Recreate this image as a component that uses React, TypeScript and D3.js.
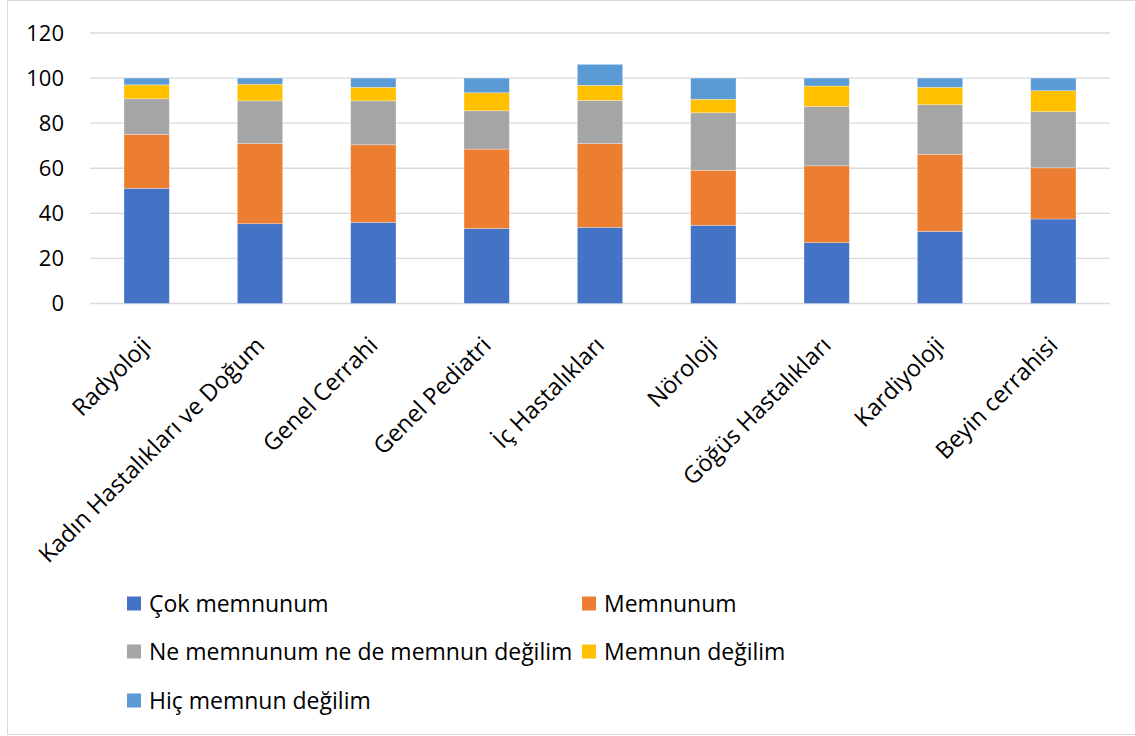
import React, { useRef, useEffect } from 'react';
import * as d3 from 'd3';

// Departments (x categories)
const departments = [
  'Radyoloji',
  'Kadın Hastalıkları ve Doğum',
  'Genel Cerrahi',
  'Genel Pediatri',
  'İç Hastalıkları',
  'Nöroloji',
  'Göğüs Hastalıkları',
  'Kardiyoloji',
  'Beyin cerrahisi',
];

// Satisfaction levels (stack order, bottom to top)
const levels = [
  'Çok memnunum',
  'Memnunum',
  'Ne memnunum ne de memnun değilim',
  'Memnun değilim',
  'Hiç memnun değilim',
];

const cokMemnunum = [51.1, 35.4, 36.0, 33.3, 33.8, 34.7, 27.0, 32.0, 37.5];
const memnunum = [23.9, 35.6, 34.4, 35.2, 37.2, 24.4, 34.1, 34.2, 22.7];
const neMemnunum = [15.8, 18.9, 19.5, 17.0, 19.1, 25.5, 26.3, 22.0, 24.9];
const memnunDegilim = [6.2, 7.4, 6.0, 8.0, 6.7, 6.0, 9.1, 7.7, 9.3];
const hicMemnunDegilim = [3.0, 2.7, 4.1, 6.5, 9.3, 9.4, 3.5, 4.1, 5.6];

const yTicks = [0, 20, 40, 60, 80, 100, 120];

const colors = ['#4472C4', '#ED7D31', '#A5A5A5', '#FFC000', '#5B9BD5'];

const App = () => {
  const svgRef = useRef<SVGSVGElement>(null);

  useEffect(() => {
    const width = 1135;
    const height = 736;
    const font = "'Open Sans', sans-serif";

    const svg = d3.select(svgRef.current);
    svg.selectAll('*').remove();
    svg.attr('width', width).attr('height', height);

    // chart frame
    svg.append('rect')
      .attr('x', 7.5)
      .attr('y', 0.5)
      .attr('width', width)
      .attr('height', 734)
      .attr('fill', '#fff')
      .attr('stroke', '#d9d9d9')
      .attr('stroke-width', 1);

    // Build table for stacking
    const series = [cokMemnunum, memnunum, neMemnunum, memnunDegilim, hicMemnunDegilim];
    const table = departments.map((dep, i) => {
      const row: any = { dep };
      levels.forEach((lv, j) => { row[lv] = series[j][i]; });
      return row;
    });
    const stacked = d3.stack().keys(levels)(table);

    const x = d3.scaleBand()
      .domain(departments)
      .range([90, 1110])
      .paddingInner(0.6)
      .paddingOuter(0.3);

    const y = d3.scaleLinear()
      .domain([0, 120])
      .range([303.5, 33]);

    // gridlines
    svg.append('g')
      .selectAll('line')
      .data(yTicks)
      .enter()
      .append('line')
      .attr('x1', 90)
      .attr('x2', 1110)
      .attr('y1', d => y(d))
      .attr('y2', d => y(d))
      .attr('stroke', '#d9d9d9')
      .attr('stroke-width', 1.3);

    // y labels
    svg.append('g')
      .selectAll('text')
      .data(yTicks)
      .enter()
      .append('text')
      .attr('x', 64)
      .attr('y', d => y(d))
      .attr('dy', '0.35em')
      .attr('text-anchor', 'end')
      .attr('font-family', font)
      .attr('font-size', 22)
      .attr('fill', '#000')
      .text(d => d);

    // bars
    stacked.forEach((layer, j) => {
      svg.append('g')
        .selectAll('rect')
        .data(layer)
        .enter()
        .append('rect')
        .attr('x', (d: any) => x(d.data.dep) as number)
        .attr('width', x.bandwidth())
        .attr('y', d => y(d[1]))
        .attr('height', d => y(d[0]) - y(d[1]))
        .attr('fill', colors[j])
        .attr('stroke', '#fff')
        .attr('stroke-opacity', 0.4)
        .attr('stroke-width', 0.75);
    });

    // x labels, rotated
    svg.append('g')
      .selectAll('text')
      .data(departments)
      .enter()
      .append('text')
      .attr('transform', d => `translate(${(x(d) as number) + x.bandwidth() / 2},${341}) rotate(-45)`)
      .attr('dy', '0.35em')
      .attr('text-anchor', 'end')
      .attr('font-family', font)
      .attr('font-size', 23.5)
      .attr('fill', '#000')
      .text(d => d);

    // legend
    const legendPos = [
      { x: 127, y: 603.5 },
      { x: 582, y: 603.5 },
      { x: 127, y: 651.5 },
      { x: 582, y: 651.5 },
      { x: 127, y: 700.5 },
    ];
    const legend = svg.append('g')
      .selectAll('g')
      .data(levels)
      .enter()
      .append('g')
      .attr('transform', (d, i) => `translate(${legendPos[i].x},${legendPos[i].y})`);

    legend.append('rect')
      .attr('x', 0)
      .attr('y', -7)
      .attr('width', 14)
      .attr('height', 14)
      .attr('fill', (d, i) => colors[i]);

    legend.append('text')
      .attr('x', 22)
      .attr('y', 0)
      .attr('dy', '0.35em')
      .attr('font-family', font)
      .attr('font-size', 23)
      .attr('fill', '#000')
      .text(d => d);
  }, []);

  return (
    <div style={{ position: 'absolute', left: 0, top: 0 }}>
      <svg ref={svgRef} style={{ display: 'block' }}></svg>
    </div>
  );
};

export default App;
